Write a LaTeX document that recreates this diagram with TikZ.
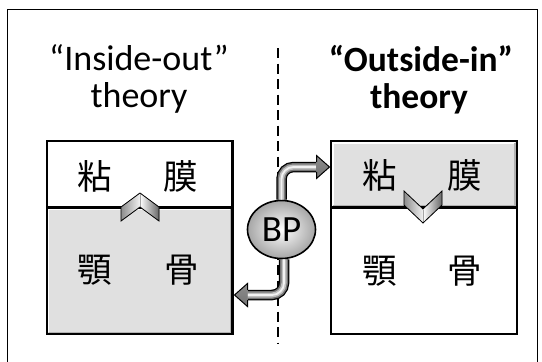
\documentclass[tikz,border=0pt]{standalone}
\usepackage{fontspec}
\setmainfont{Carlito}
\newfontfamily\cjk{Noto Sans CJK JP}
\usetikzlibrary{shapes.geometric,calc}

\begin{document}
\begin{tikzpicture}[x=1pt,y=-1pt,
  title/.style={font=\fontsize{36}{38}\selectfont, anchor=base, inner sep=0pt},
  boldtitle/.style={font=\bfseries\fontsize{35.5}{38}\selectfont, anchor=base, inner sep=0pt},
  kanji/.style={font=\cjk\fontsize{34.5}{34.5}\selectfont, inner sep=0pt},
  boxline/.style={draw=black, line width=2.3pt},
  tissue/.style={fill=black!12},
  bevel dark/.style={draw=black!30, line width=1.6pt},
  bevel light/.style={draw=white, line width=1.6pt},
  tube/.style={preaction={draw=black, line width=10.5pt},
               preaction={draw=black!55, line width=8pt},
               preaction={draw=black!25, line width=5pt},
               draw=black!5, line width=1.8pt},
  tubehead/.style={top color=black!45, middle color=black!5, bottom color=black!55},
  armdark/.style={left color=white, right color=black!60},
  armlight/.style={left color=black!45, right color=black!5},
  chevline/.style={draw=black, line width=0.8pt, line join=miter},
]
\useasboundingbox (0,0) rectangle (542,362);
\fill[white] (0,0) rectangle (542,362);

% outer frame (open at the bottom)
\draw[line width=1.4pt] (7.5,380) -- (7.5,9.5) -- (537.5,9.5) -- (537.5,380);

% separating dashed line
\draw[line width=2.5pt, dash pattern=on 10pt off 5.5pt] (278,48) -- (278,343);

% titles
\node[title] (lt1) at (139,70) {“Inside-out”};
\node[title] (lt2) at (139,107) {theory};
\node[boldtitle] (rt1) at (421,71.5) {“Outside-in”};
\node[boldtitle] (rt2) at (419,108) {theory};

% ---- left box: mucosa (white) over jaw bone (grey)
\fill[white] (46.7,141) rectangle (232.6,207.5);
\fill[tissue] (46.7,207.5) rectangle (232.6,334.3);
\draw[bevel light] (48.6,332.4) -- (48.6,209.4) -- (230.7,209.4);
\draw[bevel dark] (48.6,332.4) -- (230.7,332.4) -- (230.7,209.4);
\draw[boxline] (46.7,141) rectangle (232.6,334.3);
\draw[boxline] (46.7,207.5) -- (232.6,207.5);

% ---- right box: mucosa (grey) over jaw bone (white)
\fill[tissue] (331,141) rectangle (517,207.5);
\fill[white] (331,207.5) rectangle (517,334.3);
\draw[bevel light] (332.9,205.6) -- (332.9,142.9) -- (515.1,142.9);
\draw[bevel dark] (332.9,205.6) -- (515.1,205.6) -- (515.1,142.9);
\draw[boxline] (331,141) rectangle (517,334.3);
\draw[boxline] (331,207.5) -- (517,207.5);

% labels
\node[kanji] (lm1) at (95,176.5) {粘};
\node[kanji] (lm2) at (181,176.5) {膜};
\node[kanji] (lb1) at (95,270.5) {顎};
\node[kanji] (lb2) at (181.5,270.5) {骨};
\node[kanji] (rm1) at (379.3,175.5) {粘};
\node[kanji] (rm2) at (465,175.5) {膜};
\node[kanji] (rb1) at (379.3,271) {顎};
\node[kanji] (rb2) at (465,271) {骨};

% upward chevron (left box)
\fill[armlight] (140,193) -- (121,207) -- (121,221) -- (140,207) -- cycle;
\fill[armdark] (140,193) -- (159,207) -- (159,221) -- (140,207) -- cycle;
\draw[black!35, line width=0.5pt] (140,193.8) -- (140,206.5);
\draw[chevline] (140,193) -- (121,207) -- (121,221) -- (140,207) -- (159,221) -- (159,207) -- cycle;

% downward chevron (right box)
\fill[armlight] (404,191) -- (404,205) -- (423,223) -- (423,209) -- cycle;
\fill[armdark] (442,191) -- (442,205) -- (423,223) -- (423,209) -- cycle;
\draw[black!35, line width=0.5pt] (423,209.5) -- (423,222.2);
\draw[chevline] (404,191) -- (404,205) -- (423,223) -- (442,205) -- (442,191) -- (423,209) -- cycle;

% BP bubble
\node[ellipse, draw=black, line width=1.6pt, minimum width=68pt, minimum height=58pt,
      inner sep=0pt, inner color=white, outer color=black!35,
      font=\fontsize{37}{37}\selectfont] (bp) at (281.5,229.5) {BP};

% curved block arrows out of the bubble
\coordinate (rhb) at (316.5,167);
\coordinate (rtip) at (329.5,167);
\coordinate (lhb) at (247.5,295);
\coordinate (ltip) at (234.5,295);

\draw[tube, rounded corners=12pt] (bp.north) |- (rhb);
\path[tubehead] ($(rhb)+(0,-11.5)$) -- (rtip) -- ($(rhb)+(0,11.5)$) -- cycle;
\draw[line width=1pt, line join=miter] ($(rhb)+(0,-4.8)$) -- ($(rhb)+(0,-11.5)$) -- (rtip)
      -- ($(rhb)+(0,11.5)$) -- ($(rhb)+(0,4.8)$);

\draw[tube, rounded corners=12pt] ([xshift=2.5pt]bp.south) |- (lhb);
\path[tubehead] ($(lhb)+(0,-11.5)$) -- (ltip) -- ($(lhb)+(0,11.5)$) -- cycle;
\draw[line width=1pt, line join=miter] ($(lhb)+(0,-4.8)$) -- ($(lhb)+(0,-11.5)$) -- (ltip)
      -- ($(lhb)+(0,11.5)$) -- ($(lhb)+(0,4.8)$);
\end{tikzpicture}
\end{document}
